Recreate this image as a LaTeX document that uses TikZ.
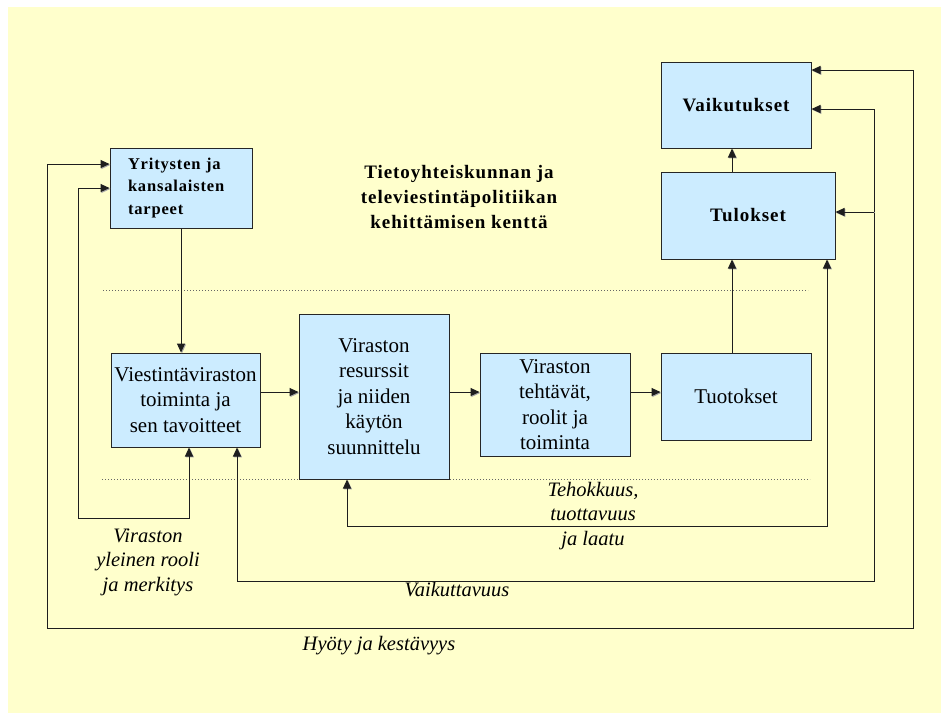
\documentclass[tikz,border=0pt]{standalone}
\usepackage{fontspec}
\setmainfont{Liberation Serif}
\newfontfamily\trackfont[LetterSpace=5.0]{Liberation Serif}
\usetikzlibrary{arrows.meta,shadows}

\definecolor{bgyellow}{HTML}{FFFFCC}
\definecolor{boxblue}{HTML}{CCECFF}
\definecolor{linegray}{HTML}{1E1E1E}

\tikzset{
  box/.style={draw=black!85, line width=1pt, fill=boxblue, rectangle,
    inner sep=0pt, align=center,
    drop shadow={shadow xshift=1.3pt, shadow yshift=-1.3pt, fill=black!45, opacity=1},
    font=\fontsize{21}{25.5}\selectfont},
  boldbox/.style={box, font=\trackfont\bfseries\fontsize{19}{24}\selectfont},
  conn/.style={draw=linegray, line width=1pt,
    preaction={draw=black!35, line width=1pt, transform canvas={shift={(0.9pt,-0.9pt)}}}},
  arr/.style={conn, -{Triangle[length=9pt,width=8pt]}},
  arrboth/.style={conn, {Triangle[length=9pt,width=8pt]}-{Triangle[length=9pt,width=8pt]}},
  guide/.style={draw=black!60, line width=1pt, dash pattern=on 1pt off 2pt},
  lbl/.style={align=center, inner sep=0pt, font=\itshape\fontsize{20.5}{24.5}\selectfont},
}

\begin{document}
\begin{tikzpicture}[x=1pt, y=-1pt]
  \useasboundingbox (0,0) rectangle (941,713);
  \fill[white] (0,0) rectangle (941,713);
  \fill[bgyellow] (8,7) rectangle (941,713);

  % separator lines
  \draw[guide] (103,290) -- (808,290);
  \draw[guide] (102,479) -- (810,479);

  % boxes
  \node[boldbox, minimum width=142pt, minimum height=80pt,
        text width=106pt, inner xsep=18pt, align=left,
        font=\trackfont\bfseries\fontsize{16.5}{22.5}\selectfont]
        (yr) at (181,188) {Yritysten ja\\kansalaisten\\tarpeet};
  \node[boldbox, minimum width=150pt, minimum height=86pt] (vaik) at (736,105) {Vaikutukset};
  \node[boldbox, minimum width=174pt, minimum height=87pt] (tul) at (748,215.5) {Tulokset};
  \node[box, minimum width=149pt, minimum height=94pt] (vies) at (185.5,400)
        {Viestintäviraston\\toiminta ja\\sen tavoitteet};
  \node[box, minimum width=150pt, minimum height=165pt] (res) at (374,396.5)
        {Viraston\\resurssit\\ja niiden\\käytön\\suunnittelu};
  \node[box, minimum width=150pt, minimum height=103pt] (teht) at (555,404.5)
        {Viraston\\tehtävät,\\roolit ja\\toiminta};
  \node[box, minimum width=150pt, minimum height=87pt] (tuot) at (736,396.5) {Tuotokset};

  % title of the field
  \node[align=center, inner sep=0pt, font=\trackfont\bfseries\fontsize{19}{25}\selectfont]
        (title) at (459,197) {Tietoyhteiskunnan ja\\televiestintäpolitiikan\\kehittämisen kenttä};

  % labels of the feedback loops
  \node[lbl] (lvir) at (148,562) {Viraston\\yleinen rooli\\ja merkitys};
  \node[lbl] (lvaik) at (457,590) {Vaikuttavuus};
  \node[lbl] (lhyo) at (379,646) {Hyöty ja kestävyys};
  \node[lbl] (lteh) at (593,516) {Tehokkuus,\\tuottavuus\\ja laatu};

  % helper points for the routed connectors
  \coordinate (row) at (0,392);
  \coordinate (col) at (732,0);
  \coordinate (a1) at (189,518);  \coordinate (b1) at (78,518);  \coordinate (c1) at (78,188);
  \coordinate (a2) at (237,581);  \coordinate (b2) at (874,581); \coordinate (c2) at (874,109);
  \coordinate (t2) at (874,212);
  \coordinate (a3) at (347,526);  \coordinate (b3) at (827,526);
  \coordinate (a4) at (913,70);   \coordinate (b4) at (913,628); \coordinate (c4) at (47,628);
  \coordinate (d4) at (47,164);

  % main flow
  \draw[arr] (yr.south) -- (yr.south |- vies.north);
  \draw[arr] (vies.east |- row) -- (res.west |- row);
  \draw[arr] (res.east |- row) -- (teht.west |- row);
  \draw[arr] (teht.east |- row) -- (tuot.west |- row);
  \draw[arr] (tuot.north -| col) -- (tul.south -| col);
  \draw[arr] (tul.north -| col) -- (vaik.south -| col);

  % feedback loops
  \draw[arrboth] (vies.south -| a1) -- (a1) -- (b1) -- (c1) -- (yr.west |- c1);
  \draw[arrboth] (vies.south -| a2) -- (a2) -- (b2) -- (c2) -- (vaik.east |- c2);
  \draw[arr] (t2) -- (tul.east |- t2);
  \draw[arrboth] (res.south -| a3) -- (a3) -- (b3) -- (tul.south -| b3);
  \draw[arrboth] (vaik.east |- a4) -- (a4) -- (b4) -- (c4) -- (d4) -- (yr.west |- d4);
\end{tikzpicture}
\end{document}
